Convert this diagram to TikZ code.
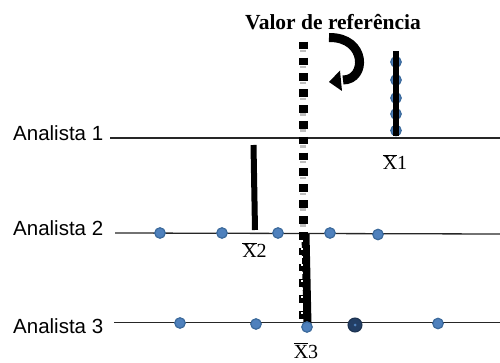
\documentclass[tikz,border=0pt]{standalone}
\usepackage{fontspec}
\setmainfont{Liberation Serif}
\newfontfamily\arialfont{Liberation Sans}
\definecolor{dotfill}{HTML}{4F81BD}
\definecolor{dotedge}{HTML}{3C6A9C}
\definecolor{darkdot}{HTML}{233E64}
\begin{document}
\begin{tikzpicture}[x=1pt,y=-1pt,
  axis/.style={line width=1.3pt, draw=black!85},
  pt/.style={circle, fill=dotfill, draw=dotedge, line width=1.2pt, minimum size=10.5pt, inner sep=0pt},
  bigpt/.style={circle, fill=darkdot, draw=darkdot!80!black, line width=1pt, minimum size=14pt, inner sep=0pt},
  meanbar/.style={line width=6pt, draw=black},
  lab/.style={font=\arialfont\fontsize{20.5}{24}\selectfont, anchor=base west, inner sep=0pt},
  xlab/.style={font=\fontsize{20}{24}\selectfont, anchor=base, inner sep=0pt},
  refline/.style={line width=9pt, draw=black, dash pattern=on 7.7pt off 8.15pt},
  refgap/.style={line width=6pt, draw=gray!50, dash pattern=on 2.5pt off 13.35pt}]
\useasboundingbox (0,0) rectangle (500,363);
% labels
\node[lab] (a1) at (13,140.5) {Analista 1};
\node[lab] (a2) at (13,236) {Analista 2};
\node[lab] (a3) at (13,333.5) {Analista 3};
\node[font=\bfseries\fontsize{21.5}{25}\selectfont, anchor=base west, inner sep=0pt] (title) at (245,30) {Valor de referência};
% axis lines
\coordinate (l1s) at (110,138); \coordinate (l1e) at (500,138);
\coordinate (l2s) at (115,233); \coordinate (l2e) at (500,234);
\coordinate (l3s) at (114,322.5); \coordinate (l3e) at (500,322.5);
\draw[axis] (l1s) -- (l1e);
\draw[axis] (l2s) -- (l2e);
\draw[axis] (l3s) -- (l3e);
% analyst 1 dots
\node[pt] (d11) at (396,62) {};
\node[pt] (d12) at (396,80) {};
\node[pt] (d13) at (396,98) {};
\node[pt] (d14) at (396,114) {};
\node[pt] (d15) at (396,130.5) {};
% analyst 2 dots
\node[pt] (d21) at (160,233) {};
\node[pt] (d22) at (222,233) {};
\node[pt] (d23) at (278,233) {};
\node[pt] (d24) at (330,233) {};
\node[pt] (d25) at (378,234.5) {};
% analyst 3 dots
\node[pt] (d31) at (180,323) {};
\node[pt] (d32) at (256,324) {};
\node[bigpt] (d34) at (355,325) {};
\fill[dotfill] (d34.center) circle (1.5pt);
\node[pt] (d35) at (438,323.5) {};
% mean bars
\coordinate (m1t) at (396,51); \coordinate (m1b) at (396,136);
\coordinate (m2t) at (253.5,145); \coordinate (m2b) at (255,230);
\coordinate (m3t) at (305.5,234); \coordinate (m3b) at (307.5,325);
\draw[meanbar] (m1t) -- (m1b);
\draw[meanbar] (m2t) -- (m2b);
\draw[meanbar, line width=8pt] (m3t) -- (m3b);
% reference line
\coordinate (rt) at (303,41.7); \coordinate (rb) at (303,322);
\coordinate (gt) at (303,50); \coordinate (gb) at (303,230);
\draw[refline] (rt) -- (rb);
\draw[refgap] (gt) -- (gb);
\draw[line width=2pt, white, dash pattern=on 1.5pt off 6.5pt] (301.5,240) -- (301.5,318);
\node[pt] (d33) at (307,327) {};
% curved arrow
\coordinate (cs) at (329,37.5); \coordinate (ce) at (343,80);
\draw[line width=9pt] (cs) .. controls (367,37) and (367,80) .. (ce);
\fill (329,82) -- (340,70.5) -- (342,91) -- cycle;
% mean labels
\node[xlab] (x1) at (395,170) {$\overline{\hbox{X}}$1};
\node[xlab] (x2) at (254.5,258) {$\overline{\hbox{X}}$2};
\node[xlab] (x3) at (306,358) {$\overline{\hbox{X}}$3};
\end{tikzpicture}
\end{document}
